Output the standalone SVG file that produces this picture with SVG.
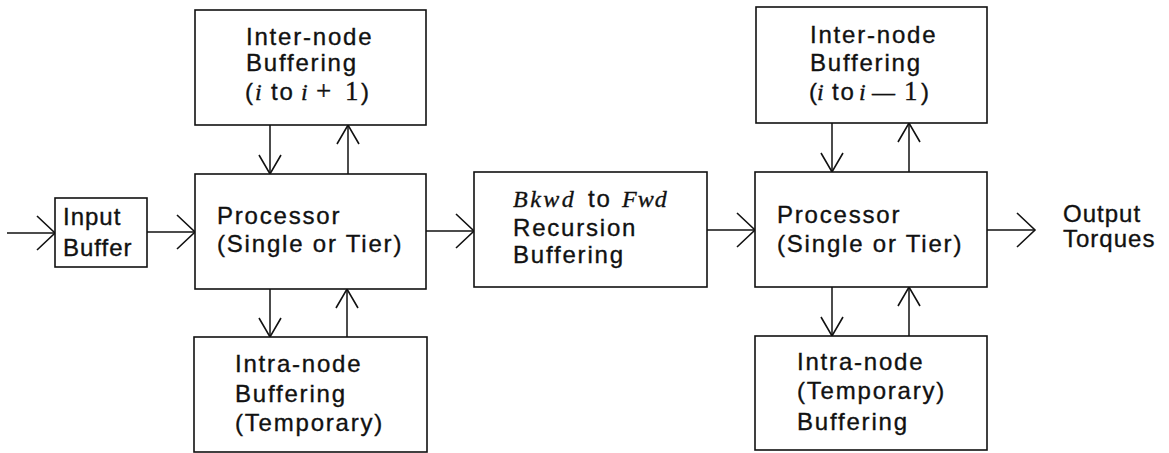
<svg xmlns="http://www.w3.org/2000/svg" width="1169" height="453" viewBox="0 0 1169 453">
<style>
.box{fill:#fff;stroke:#111;stroke-width:1.6}
.c{fill:none;stroke:#111;stroke-width:1.5}
.t{font-family:"Liberation Sans",Arial,sans-serif;font-size:24px;letter-spacing:1.8px;fill:#111;stroke:#111;stroke-width:0.35}
.m{font-family:"Liberation Serif","Times New Roman",serif;font-style:italic;font-size:24px;letter-spacing:1px}
.r{font-family:"Liberation Serif","Times New Roman",serif;font-size:27px;letter-spacing:0}
</style>
<defs>
<marker id="ah" markerUnits="userSpaceOnUse" markerWidth="40" markerHeight="40" viewBox="-20 -20 40 40" refX="0" refY="0" orient="auto">
<path d="M-18,-17 L0,0 L-18,17" fill="none" stroke="#111" stroke-width="1.6"/>
</marker>
<marker id="av" markerUnits="userSpaceOnUse" markerWidth="40" markerHeight="40" viewBox="-20 -20 40 40" refX="0" refY="0" orient="auto">
<path d="M-19,-11 L0,0 L-19,11" fill="none" stroke="#111" stroke-width="1.6"/>
</marker>
</defs>
<rect width="1169" height="453" fill="#fff"/>
<g id="connectors">
<line class="c" x1="7" y1="233" x2="55" y2="233" marker-end="url(#ah)"/>
<line class="c" x1="147" y1="232" x2="195" y2="232" marker-end="url(#ah)"/>
<line class="c" x1="426" y1="231" x2="474" y2="231" marker-end="url(#ah)"/>
<line class="c" x1="707" y1="230" x2="755" y2="230" marker-end="url(#ah)"/>
<line class="c" x1="987" y1="230" x2="1035" y2="230" marker-end="url(#ah)"/>
<line class="c" x1="270" y1="125" x2="270" y2="174" marker-end="url(#av)"/>
<line class="c" x1="348" y1="174" x2="348" y2="125" marker-end="url(#av)"/>
<line class="c" x1="270" y1="289" x2="270" y2="337" marker-end="url(#av)"/>
<line class="c" x1="347" y1="337" x2="347" y2="289" marker-end="url(#av)"/>
<line class="c" x1="832" y1="123" x2="832" y2="172" marker-end="url(#av)"/>
<line class="c" x1="909" y1="172" x2="909" y2="123" marker-end="url(#av)"/>
<line class="c" x1="832" y1="287" x2="832" y2="336" marker-end="url(#av)"/>
<line class="c" x1="909" y1="336" x2="909" y2="287" marker-end="url(#av)"/>
</g>
<g id="input-buffer">
<rect class="box" x="55" y="198" width="92" height="69"/>
<text class="t" x="63" y="225" style="letter-spacing:1px">Input</text>
<text class="t" x="63" y="256" style="letter-spacing:1px">Buffer</text>
</g>
<g id="processor-1">
<rect class="box" x="195" y="174" width="231" height="115"/>
<text class="t" x="217" y="224">Processor</text>
<text class="t" x="217" y="252">(Single or Tier)</text>
</g>
<g id="inter-node-fwd">
<rect class="box" x="195" y="10" width="231" height="115"/>
<text class="t" x="246" y="45">Inter-node</text>
<text class="t" x="246" y="71">Buffering</text>
<text class="t" y="100"><tspan x="245">(</tspan><tspan class="m" x="255">i</tspan><tspan x="271">to</tspan><tspan class="m" x="301">i</tspan><tspan class="r" x="316">+</tspan><tspan class="r" x="345">1</tspan><tspan x="361">)</tspan></text>
</g>
<g id="intra-node-1">
<rect class="box" x="194" y="337" width="233" height="115"/>
<text class="t" x="235" y="372">Intra-node</text>
<text class="t" x="235" y="402">Buffering</text>
<text class="t" x="235" y="431">(Temporary)</text>
</g>
<g id="recursion-buffering">
<rect class="box" x="474" y="172" width="233" height="115"/>
<text class="t" y="207"><tspan class="m" x="513" style="letter-spacing:2.5px">Bkwd</tspan><tspan x="588">to</tspan><tspan class="m" x="622" style="letter-spacing:1px">Fwd</tspan></text>
<text class="t" x="513" y="236">Recursion</text>
<text class="t" x="513" y="263">Buffering</text>
</g>
<g id="processor-2">
<rect class="box" x="755" y="172" width="232" height="115"/>
<text class="t" x="777" y="223">Processor</text>
<text class="t" x="777" y="252">(Single or Tier)</text>
</g>
<g id="inter-node-bwd">
<rect class="box" x="756" y="7" width="231" height="116"/>
<text class="t" x="810" y="43">Inter-node</text>
<text class="t" x="810" y="71">Buffering</text>
<text class="t" y="100"><tspan x="809">(</tspan><tspan class="m" x="817">i</tspan><tspan x="832">to</tspan><tspan class="m" x="859">i</tspan><tspan class="r" x="872" style="font-size:23px">—</tspan><tspan class="r" x="904">1</tspan><tspan x="921">)</tspan></text>
</g>
<g id="intra-node-2">
<rect class="box" x="755" y="336" width="232" height="114"/>
<text class="t" x="797" y="370">Intra-node</text>
<text class="t" x="797" y="399">(Temporary)</text>
<text class="t" x="797" y="430">Buffering</text>
</g>
<g id="output-torques">
<text class="t" x="1063" y="222" style="letter-spacing:1px">Output</text>
<text class="t" x="1063" y="247" style="letter-spacing:1px">Torques</text>
</g>
</svg>
